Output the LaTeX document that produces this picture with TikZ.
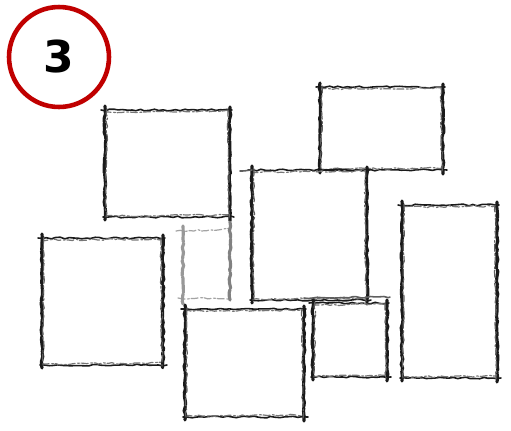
\documentclass[tikz,border=0pt]{standalone}
\usepackage{fontspec}
\newfontfamily\numfont{DejaVu Sans}
\usetikzlibrary{decorations.pathmorphing}
\definecolor{cred}{HTML}{C00000}
\definecolor{cpencil}{HTML}{1A1A1A}

\begin{document}
\begin{tikzpicture}[x=0.02cm, y=-0.02cm,
      pencil/.style={draw=cpencil, line width=0.9pt, line cap=round, decorate,
        decoration={random steps, segment length=2.5pt, amplitude=0.5pt}},
      pencil edge/.style={pencil, line width=1.8pt, dash pattern=on 9pt off 0.8pt},
      grain/.style={pencil, line width=0.7pt, dash pattern=on 4pt off 1.5pt on 1pt off 1pt},
      badge/.style={draw=cred, line width=2.6pt, circle, minimum size=2.0cm, inner sep=0pt,
        font=\numfont\bfseries\fontsize{25}{25}\selectfont}
    ]
    \useasboundingbox (0,0) rectangle (511,430);
    \node[badge] (num) at (59,57) {3};
    % sketched boxes: left/top/right/bottom
    \foreach \xa/\ya/\xb/\yb in {105/110/230/217, 320/87/443/170, 252/170/367/300,
        402/205/497/378, 42/238/163/365, 185/309/304/417, 313/303/387/377} {
      \draw[pencil] ({\xa-4},\ya) -- ({\xb+2},\ya);
      \draw[grain, cpencil!60] ({\xa-1},{\ya+2}) -- (\xb,{\ya+1});
      \draw[pencil] ({\xa-2},\yb) -- ({\xb+4},\yb);
      \draw[grain, cpencil!60] (\xa,{\yb-1}) -- ({\xb+1},{\yb-2});
      \draw[pencil edge] (\xa,{\ya-4}) -- (\xa,{\yb+3});
      \draw[grain, cpencil!70] ({\xa+2},{\ya-1}) -- ({\xa+1},\yb);
      \draw[pencil edge] (\xb,{\ya-3}) -- (\xb,{\yb+4});
      \draw[grain, cpencil!70] ({\xb-2},\ya) -- ({\xb-1},{\yb+1});
    }
    % faint box behind
    \draw[grain, cpencil!40] (176,231) -- (231,229);
    \draw[grain, cpencil!40] (178,298) -- (230,299);
    \draw[pencil edge, cpencil!45] (183,226) -- (183,304);
    \draw[pencil edge, cpencil!55] (230,222) -- (230,300);
    \draw[pencil, cpencil!70] (240,171) -- (252,170);
    \draw[pencil, cpencil!70] (304,298) -- (390,297);
  \end{tikzpicture}
\end{document}
